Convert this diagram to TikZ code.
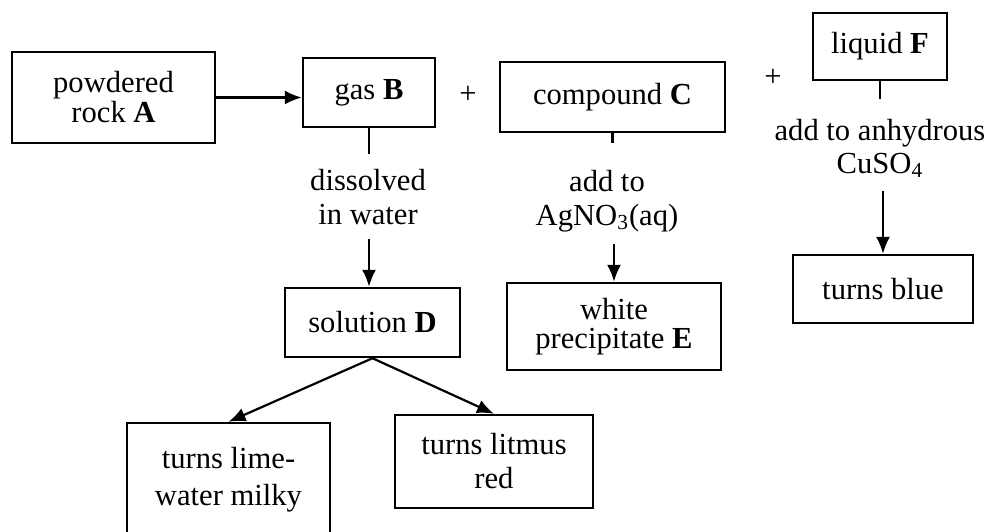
\documentclass[tikz,border=0pt]{standalone}
\usepackage{fontspec}
\setmainfont{Liberation Serif}
\usetikzlibrary{arrows.meta, positioning, calc}
\tikzstyle{box} = [rectangle, draw=black, line width=1.2pt, align=center, inner sep=2pt]
\tikzstyle{lbl} = [align=center, inner sep=0pt]
\tikzstyle{arrow} = [line width=1.1pt, -{Latex[length=8.5pt, width=7pt]}]
\tikzstyle{line} = [line width=1.1pt]

\begin{document}
\begin{tikzpicture}[x=0.5pt, y=-0.5pt, font=\fontsize{15.3}{17}\selectfont]
    \useasboundingbox (0,0) rectangle (990,531);

    % top row
    \node[box, minimum width=101.5pt, minimum height=45.5pt, font=\fontsize{15.3}{15}\selectfont] (rockA) at (113.5,97.5) {powdered\\rock \textbf{A}};
    \node[box, minimum width=66pt, minimum height=34.5pt] (gasB) at (369,92.5) {gas \textbf{B}};
    \node (plus1) at (468,95) {+};
    \node[box, minimum width=112.5pt, minimum height=35pt] (compC) at (612.5,97) {compound \textbf{C}};
    \node (plus2) at (773,78) {+};
    \node[box, minimum width=67pt, minimum height=33.5pt] (liqF) at (880,46.5) {liquid \textbf{F}};

    % test labels
    \node[lbl] (lblB) at (368,197.5) {dissolved\\in water};
    \node[lbl] (lblC) at (607,201) {add to\\AgNO\textsubscript{3}(aq)};
    \node[lbl, font=\fontsize{15.3}{16.5}\selectfont] (lblF) at (880,148.5) {add to anhydrous\\CuSO\textsubscript{4}};

    % results
    \node[box, minimum width=87.5pt, minimum height=34.5pt] (solD) at (372.5,322.5) {solution \textbf{D}};
    \node[box, minimum width=107pt, minimum height=43.5pt, font=\fontsize{15.3}{14.5}\selectfont] (precE) at (614,326.5) {white\\precipitate \textbf{E}};
    \node[box, minimum width=90pt, minimum height=34pt] (blue) at (883,289) {turns blue};
    \node[box, minimum width=101.5pt, minimum height=57pt, font=\fontsize{15.3}{18.5}\selectfont] (lime) at (228.5,480) {turns lime-\\water milky};
    \node[box, minimum width=99pt, minimum height=46.5pt] (litmus) at (494,461.5) {turns litmus\\red};

    % connectors
    \draw[arrow] (rockA.east) -- (rockA.east -| gasB.west);
    \draw[line, shorten >=7.5pt] (gasB.south) -- (gasB.south |- lblB.north);
    \draw[arrow, shorten <=6.5pt] (gasB.south |- lblB.south) -- (gasB.south |- solD.north);
    \draw[line, shorten >=13.5pt] (compC.south) -- (compC.south |- lblC.north);
    \draw[arrow, shorten <=6pt] (precE.north |- lblC.south) -- (precE.north);
    \draw[line, shorten >=10pt] (liqF.south) -- (liqF.south |- lblF.north);
    \draw[arrow, shorten <=6.5pt] (blue.north |- lblF.south) -- (blue.north);
    \draw[arrow] (solD.south) -- (lime.north);
    \draw[arrow] (solD.south) -- (litmus.north);
\end{tikzpicture}
\end{document}
